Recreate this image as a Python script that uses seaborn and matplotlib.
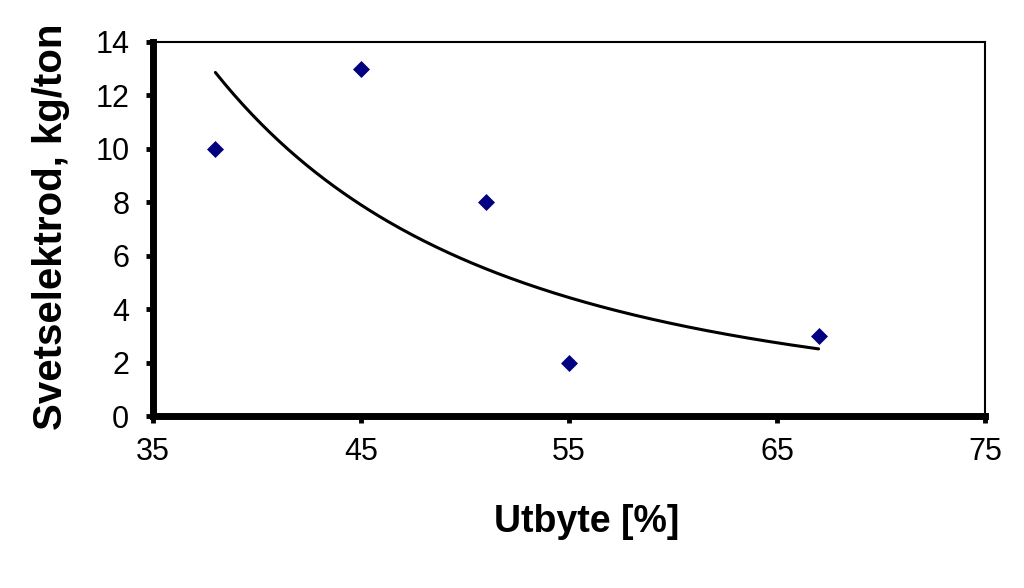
import numpy as np
import pandas as pd
import matplotlib
matplotlib.use('Agg')
import matplotlib.pyplot as plt
import seaborn as sns

# data
utbyte = [38, 45, 51, 55, 67]
svetselektrod = [10, 13, 8, 2, 3]
x_ticks = [35, 45, 55, 65, 75]
y_ticks = [0, 2, 4, 6, 8, 10, 12, 14]

df = pd.DataFrame({'utbyte': utbyte, 'svets': svetselektrod})

# power trendline (like the Excel one) fitted on the points
b, ln_a = np.polyfit(np.log(df['utbyte']), np.log(df['svets']), 1)
xs = np.linspace(min(utbyte), max(utbyte), 200)
trend = pd.DataFrame({'utbyte': xs, 'svets': np.exp(ln_a) * xs ** b})

sns.set_style('white')
plt.rcParams['font.family'] = ['Liberation Sans', 'DejaVu Sans']
plt.rcParams['text.color'] = 'black'
plt.rcParams['axes.labelcolor'] = 'black'
plt.rcParams['xtick.color'] = 'black'
plt.rcParams['ytick.color'] = 'black'

fig = plt.figure(figsize=(10.24, 5.88), dpi=100)
ax = fig.add_axes([0.1494, 0.2925, 0.8125, 0.6361])

sns.lineplot(data=trend, x='utbyte', y='svets', color='black', linewidth=2.2, ax=ax)
sns.scatterplot(data=df, x='utbyte', y='svets', marker='D', s=75,
                color='#000080', edgecolor='#000080', linewidth=0, ax=ax, zorder=3)

ax.set_xlim(35, 75)
ax.set_ylim(0, 14)
ax.set_xticks(x_ticks)
ax.set_yticks(y_ticks)
ax.tick_params(axis='both', labelsize=22, direction='out', length=5, width=3.5,
               color='black', labelcolor='black', left=True, bottom=True)
ax.tick_params(axis='y', pad=12)
ax.tick_params(axis='x', pad=10)

for side in ['left', 'bottom']:
    ax.spines[side].set_linewidth(5)
for side in ['top', 'right']:
    ax.spines[side].set_linewidth(1.5)
for s in ax.spines.values():
    s.set_color('black')
    s.set_visible(True)

ax.set_xlabel('Utbyte [%]', fontsize=27, fontweight='bold', color='black')
ax.set_ylabel('Svetselektrod, kg/ton', fontsize=29, fontweight='bold', color='black')
ax.xaxis.set_label_coords(0.521, -0.235)
ax.yaxis.set_label_coords(-0.1, 0.505)

plt.savefig('out.png', dpi=100, facecolor='white')
